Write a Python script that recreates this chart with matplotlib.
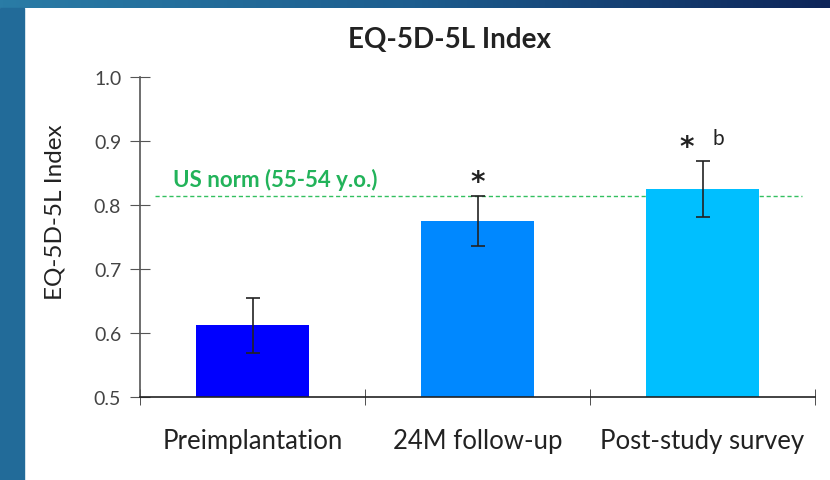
import numpy as np
import matplotlib
matplotlib.use("Agg")
import matplotlib.pyplot as plt
from matplotlib.patches import Rectangle
from matplotlib.colors import LinearSegmentedColormap

plt.rcParams['font.family'] = ['Lato', 'DejaVu Sans']

# data
categories = ['Preimplantation', '24M follow-up', 'Post-study survey']
means = [0.612, 0.775, 0.825]
errors = [0.043, 0.039, 0.043]
bar_colors = ['#0000FF', '#0088FF', '#00BFFF']
stars = [False, True, True]
letters = ['', '', 'b']
us_norm = 0.814

fig = plt.figure(figsize=(8.3, 4.81), dpi=100)

# slide-style frame: gradient band on top, solid band on left
top = fig.add_axes([0, 1 - 9 / 481, 1, 9 / 481])
grad = np.linspace(0, 1, 256).reshape(1, -1)
cmap = LinearSegmentedColormap.from_list('band', ['#2a7ca6', '#1d5d8e', '#0d2458'])
top.imshow(grad, aspect='auto', cmap=cmap, extent=[0, 1, 0, 1])
top.axis('off')
fig.patches.append(Rectangle((0, 0), 24 / 830, 1 - 9 / 481, transform=fig.transFigure,
                             color='#226b99', zorder=0))

ax = fig.add_axes([140 / 830, 1 - 398 / 481, 675 / 830, 320 / 481])
x = np.arange(len(categories))
ax.bar(x, [m - 0.5 for m in means], bottom=0.5, width=0.5, color=bar_colors, zorder=2)
ax.errorbar(x, means, yerr=errors, fmt='none', ecolor='#222222', elinewidth=1.2,
            capsize=5, capthick=1.2, zorder=3)

ax.axhline(us_norm, xmin=0.022, xmax=0.98, color='#33c060', linestyle='--',
           dashes=(3, 2), linewidth=1, zorder=1)
ax.text(-0.355, us_norm + 0.01, 'US norm (55-54 y.o.)', color='#22b35a', fontsize=16,
        fontweight='bold', va='bottom', ha='left')

for xi, m, e, s, lt in zip(x, means, errors, stars, letters):
    if s:
        ax.text(xi - (0.07 if lt else 0), m + e + 0.022, '*', ha='center', va='center',
                fontsize=20, fontweight='bold', color='#222222', family='DejaVu Sans')
    if lt:
        ax.text(xi + 0.07, m + e + 0.037, lt, ha='center', va='center',
                fontsize=15, color='#222222')

ax.set_xlim(-0.5, 2.5)
ax.set_ylim(0.5, 1.0)
ax.set_yticks([0.5, 0.6, 0.7, 0.8, 0.9, 1.0])
ax.set_yticklabels(['0.5', '0.6', '0.7', '0.8', '0.9', '1.0'])
ax.set_xticks(x)
ax.set_xticklabels(categories, fontsize=18.5, color='#222222')
ax.set_xticks([-0.5, 0.5, 1.5, 2.5], minor=True)
ax.tick_params(axis='x', which='major', length=0, pad=22)
ax.tick_params(axis='x', which='minor', direction='inout', length=12, color='#333333')
ax.tick_params(axis='y', direction='inout', length=15, labelsize=14, labelcolor='#444444',
               color='#555555', pad=6)

for s in ['top', 'right']:
    ax.spines[s].set_visible(False)
ax.spines['left'].set_color('#555555')
ax.spines['bottom'].set_color('#222222')
ax.spines['left'].set_linewidth(1.2)
ax.spines['bottom'].set_linewidth(1.2)

ax.set_ylabel('EQ-5D-5L Index', fontsize=17.5, color='#222222', labelpad=14)
ax.yaxis.set_label_coords(-0.11, 0.58)
fig.text(449 / 830, 1 - 40 / 481, 'EQ-5D-5L Index', ha='center', va='center',
         fontsize=20, fontweight='bold', color='#222222')

fig.savefig('out.png', dpi=100)
